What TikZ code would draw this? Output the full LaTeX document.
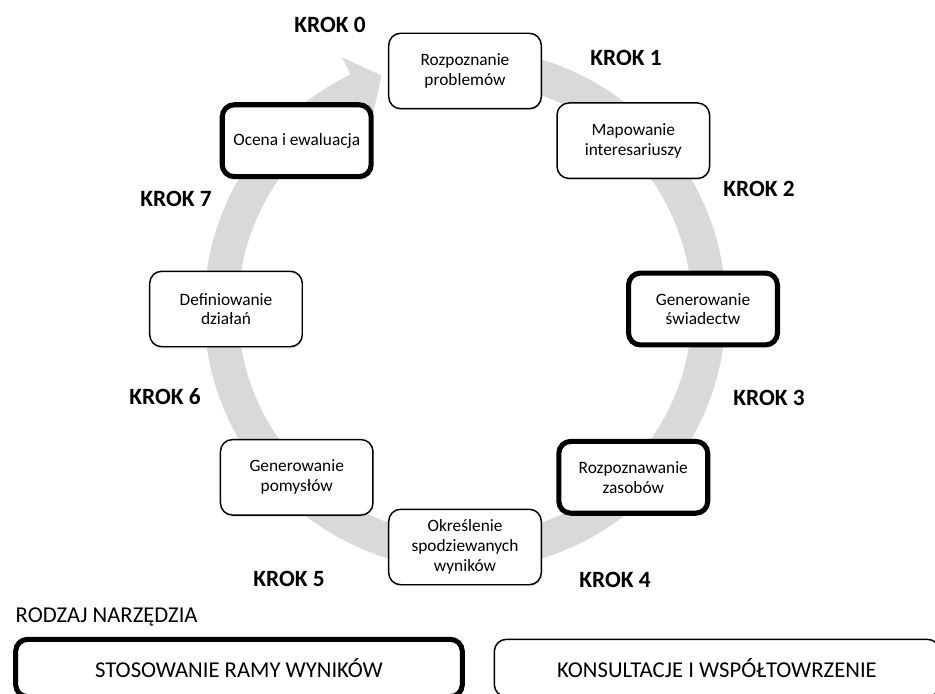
\documentclass[tikz,border=0pt]{standalone}
\usepackage{fontspec}
\setmainfont{Carlito}
\usetikzlibrary{shadows}
\definecolor{ringgray}{RGB}{217,217,217}
\begin{document}
\begin{tikzpicture}[x=0.75pt,y=0.75pt,
  stepbox/.style={draw=black, fill=white, rounded corners=9pt, line width=1.1pt,
    minimum width=114.4pt, minimum height=56.6pt, align=center, inner sep=2pt,
    font=\fontsize{13}{14.8}\selectfont,
    drop shadow={opacity=0.18, shadow xshift=0.8pt, shadow yshift=-1.3pt}},
  toolbox/.style={stepbox, line width=3.8pt, minimum width=111.7pt, minimum height=53.9pt},
  kroklabel/.style={font=\fontsize{17.5}{20}\bfseries\selectfont},
  legendbox/.style={draw=black, fill=white, rounded corners=9pt, line width=1.1pt,
    minimum height=43pt, font=\fontsize{17}{20}\selectfont,
    drop shadow={opacity=0.18, shadow xshift=0.8pt, shadow yshift=-1.3pt}},
  legendthick/.style={legendbox, line width=3.8pt}
]
\useasboundingbox (-465,309) rectangle (470,-384);
\clip (-465,309) rectangle (470,-384);
\fill[white] (-465,309) rectangle (470,-384);

% circular arrow band around the cycle
\fill[ringgray] (80:261) arc[start angle=80, end angle=-244, radius=261]
  -- (-244:227) arc[start angle=-244, end angle=80, radius=227] -- cycle;
\fill[ringgray] (116:280) -- (109.7:248) -- (116:212) -- cycle;

% process steps
\node[stepbox]  (s0) at (90:238)   {Rozpoznanie\\problemów};
\node[stepbox]  (s1) at (45:238)   {Mapowanie\\interesariuszy};
\node[toolbox]  (s2) at (0:238)    {Generowanie\\świadectw};
\node[toolbox]  (s3) at (-45:238)  {Rozpoznawanie\\zasobów};
\node[stepbox]  (s4) at (-90:238)  {Określenie\\spodziewanych\\wyników};
\node[stepbox]  (s5) at (-135:238) {Generowanie\\pomysłów};
\node[stepbox]  (s6) at (180:239)  {Definiowanie\\działań};
\node[toolbox]  (s7) at (135:238)  {Ocena i ewaluacja};

% step labels
\node[kroklabel] (k0) at (-135,284) {KROK 0};
\node[kroklabel] (k1) at (161,251)  {KROK 1};
\node[kroklabel] (k2) at (294,120)  {KROK 2};
\node[kroklabel] (k3) at (304,-89)  {KROK 3};
\node[kroklabel] (k4) at (150,-271) {KROK 4};
\node[kroklabel] (k5) at (-176,-270) {KROK 5};
\node[kroklabel] (k6) at (-300,-88) {KROK 6};
\node[kroklabel] (k7) at (-289,110) {KROK 7};

% legend
\node[anchor=west, font=\fontsize{17}{20}\selectfont] (lt) at (-454,-308) {RODZAJ NARZĘDZIA};
\node[legendthick, minimum width=335pt] (l1) at (-226,-359) {STOSOWANIE RAMY WYNIKÓW};
\node[legendbox, minimum width=334pt] (l2) at (252,-359) {KONSULTACJE I WSPÓŁTOWRZENIE};
\end{tikzpicture}
\end{document}
